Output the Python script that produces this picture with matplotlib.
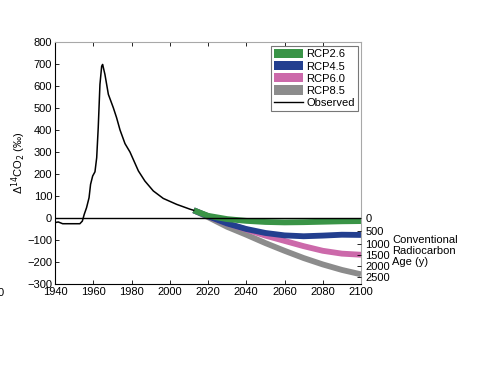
import numpy as np
import matplotlib.pyplot as plt
from matplotlib.patches import Patch
from matplotlib.lines import Line2D

# observed atmospheric D14CO2 (permil)
obs_year = [1940, 1941.7, 1944, 1953, 1954.3, 1955.3, 1956.5, 1957.8, 1958.6, 1959.7,
            1960.9, 1961.8, 1962.6, 1963.5, 1964.4, 1964.9, 1966.1, 1967.9, 1970.5,
            1972.2, 1974, 1976.6, 1979.2, 1981.5, 1983.6, 1987, 1991.4, 1996.6,
            2003.6, 2010.6, 2012.5]
obs_val = [-21, -18, -26, -26, -14, 17, 47, 92, 153, 191,
           210, 274, 410, 607, 690, 698, 653, 562, 501,
           456, 400, 338, 300, 255, 214, 168, 123, 89,
           62, 40, 35]

# scenario projections
proj_year = [2012.5, 2020, 2030, 2040, 2050, 2060, 2070, 2080, 2090, 2100]
rcp26 = [35, 10, -5, -13, -18, -20, -19, -17, -15, -14]
rcp45 = [35, 8, -25, -50, -68, -79, -83, -80, -76, -77]
rcp60 = [35, 8, -25, -52, -80, -104, -128, -149, -162, -167]
rcp85 = [35, 4, -40, -76, -114, -149, -182, -211, -236, -256]

scen_names = ["RCP2.6", "RCP4.5", "RCP6.0", "RCP8.5"]
scen_colors = ["#3a9447", "#233f8f", "#cc69aa", "#8c8c8c"]

# conventional radiocarbon age ticks on the right
age_ticks = [0, 500, 1000, 1500, 2000, 2500]

plt.rcParams["font.family"] = ["Liberation Sans", "DejaVu Sans"]
plt.rcParams["font.size"] = 8

fig = plt.figure(figsize=(4.83, 3.68), dpi=100)
ax = fig.add_axes([55 / 483, 1 - 284 / 368, 306 / 483, 242 / 368])

ax.axhline(0, color="black", lw=1.0, zorder=2.5)

scen_vals = [rcp26, rcp45, rcp60, rcp85]
for vals, c in zip(scen_vals[::-1], scen_colors[::-1]):
    ax.plot(proj_year, vals, color=c, lw=4.2, solid_capstyle="butt", zorder=2)
ax.plot(obs_year, obs_val, color="black", lw=1.1, zorder=3)

ax.set_xlim(1940, 2100)
ax.set_ylim(-300, 800)
ax.set_xticks(np.arange(1940, 2101, 20))
ax.set_yticks(np.arange(-300, 801, 100))
ax.tick_params(direction="in", length=3, width=0.6, top=True, pad=2)
ax.set_yticklabels([str(v).replace("-", "\u2212") for v in range(-300, 801, 100)])
ax.set_xticklabels([str(v) for v in range(1940, 2101, 20)])
for s in ["top", "right"]:
    ax.spines[s].set_color("#a8a8a8")
for s in ["left", "bottom"]:
    ax.spines[s].set_color("black")
    ax.spines[s].set_linewidth(0.8)
ax.set_ylabel("\u0394$^{14}$CO$_2$ (\u2030)")
ax.yaxis.set_label_coords(-0.088, 0.5)

# right axis: radiocarbon age
ax2 = ax.twinx()
ax2.set_ylim(ax.get_ylim())
age_pos = [(np.exp(-a / 8033.0) - 1) * 1000 for a in age_ticks]
ax2.set_yticks(age_pos)
ax2.set_yticklabels([str(a) for a in age_ticks])
ax2.tick_params(direction="in", length=3, width=0.6, pad=3)
for s in ax2.spines.values():
    s.set_visible(False)
fig.text(392 / 483, 1 - 251 / 368, "Conventional\nRadiocarbon\nAge (y)",
         ha="left", va="center", fontsize=8, linespacing=1.15)

handles = [Patch(facecolor=c, edgecolor="none") for c in scen_colors]
handles.append(Line2D([0], [0], color="black", lw=1))
leg = ax.legend(handles, scen_names + ["Observed"], loc="upper right",
                bbox_to_anchor=(0.99, 0.985), fancybox=False, framealpha=1,
                edgecolor="#777777", handlelength=2.6, handleheight=0.9,
                labelspacing=0.15, borderpad=0.3, handletextpad=0.3,
                borderaxespad=0)
leg.get_frame().set_linewidth(0.8)

# cut-off label from neighbouring panel
fig.text(3.5 / 483, 1 - 293 / 368, "0", ha="right", va="center", fontsize=8)

fig.savefig("out.png", dpi=100)
